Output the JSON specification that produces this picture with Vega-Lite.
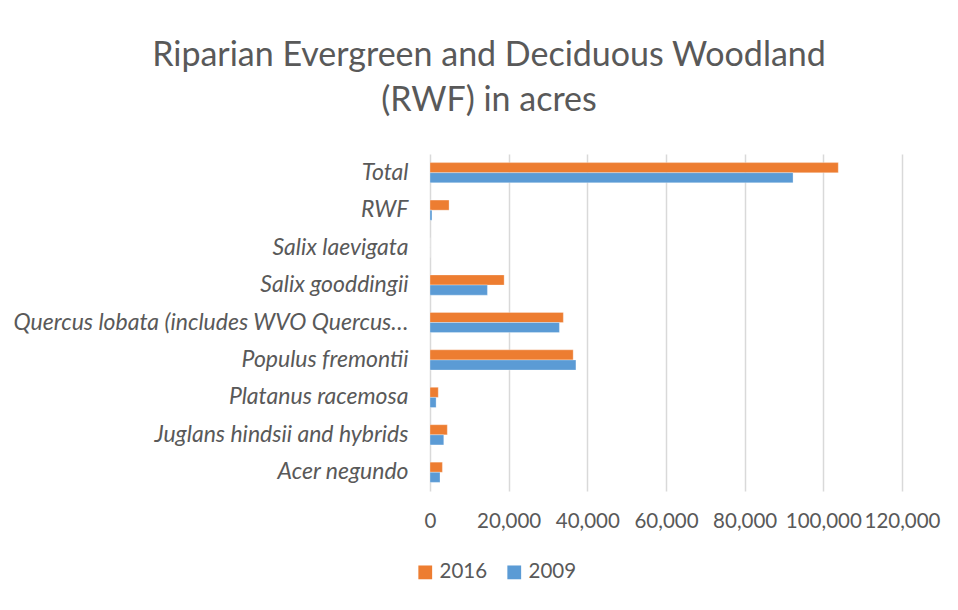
{
  "$schema": "https://vega.github.io/schema/vega-lite/v6.json",
  "width": 472,
  "height": 337,
  "autosize": {"type": "none"},
  "padding": {"left": 430, "top": 154, "right": 56, "bottom": 119},
  "background": "white",
  "title": {
    "text": ["Riparian Evergreen and Deciduous Woodland", "(RWF) in acres"],
    "font": "Lato",
    "fontSize": 34,
    "fontWeight": "normal",
    "color": "#595959",
    "lineHeight": 45,
    "anchor": "middle",
    "dx": -177,
    "offset": 36
  },
  "data": {
    "values": [
      {"species": "Total", "year": "2016", "acres": 103800},
      {"species": "Total", "year": "2009", "acres": 92300},
      {"species": "RWF", "year": "2016", "acres": 4850},
      {"species": "RWF", "year": "2009", "acres": 500},
      {"species": "Salix laevigata", "year": "2016", "acres": 0},
      {"species": "Salix laevigata", "year": "2009", "acres": 0},
      {"species": "Salix gooddingii", "year": "2016", "acres": 18850},
      {"species": "Salix gooddingii", "year": "2009", "acres": 14600},
      {"species": "Quercus lobata (includes WVO Quercus lobata)", "year": "2016", "acres": 33900},
      {"species": "Quercus lobata (includes WVO Quercus lobata)", "year": "2009", "acres": 32900},
      {"species": "Populus fremontii", "year": "2016", "acres": 36400},
      {"species": "Populus fremontii", "year": "2009", "acres": 37100},
      {"species": "Platanus racemosa", "year": "2016", "acres": 2100},
      {"species": "Platanus racemosa", "year": "2009", "acres": 1550},
      {"species": "Juglans hindsii and hybrids", "year": "2016", "acres": 4400},
      {"species": "Juglans hindsii and hybrids", "year": "2009", "acres": 3500},
      {"species": "Acer negundo", "year": "2016", "acres": 3150},
      {"species": "Acer negundo", "year": "2009", "acres": 2550}
    ]
  },
  "mark": {"type": "bar", "stroke": "white", "strokeWidth": 0.5, "strokeOpacity": 0.6},
  "encoding": {
    "y": {
      "field": "species",
      "type": "nominal",
      "sort": null,
      "scale": {"paddingInner": 0.46, "paddingOuter": 0.23},
      "axis": {
        "title": null,
        "ticks": false,
        "domain": false,
        "labelFont": "Lato",
        "labelFontSize": 23,
        "labelFontStyle": "italic",
        "labelColor": "#595959",
        "labelPadding": 22,
        "labelLimit": 400
      }
    },
    "yOffset": {
      "field": "year",
      "type": "nominal",
      "sort": ["2016", "2009"],
      "scale": {"paddingInner": 0, "paddingOuter": 0}
    },
    "x": {
      "field": "acres",
      "type": "quantitative",
      "scale": {"domain": [0, 120000], "nice": false},
      "axis": {
        "title": null,
        "values": [0, 20000, 40000, 60000, 80000, 100000, 120000],
        "format": ",d",
        "ticks": false,
        "domain": false,
        "grid": true,
        "gridColor": "#d9d9d9",
        "gridWidth": 1.5,
        "labelFont": "Lato",
        "labelFontSize": 20.5,
        "labelColor": "#595959",
        "labelPadding": 20,
        "labelFlush": false,
        "labelOverlap": false
      }
    },
    "color": {
      "field": "year",
      "type": "nominal",
      "sort": ["2016", "2009"],
      "scale": {"domain": ["2016", "2009"], "range": ["#ED7D31", "#5B9BD5"]},
      "legend": {
        "title": null,
        "orient": "none",
        "direction": "horizontal",
        "legendX": -15,
        "legendY": 408,
        "symbolType": "square",
        "symbolSize": 190,
        "symbolStrokeWidth": 0,
        "labelFont": "Lato",
        "labelFontSize": 20.5,
        "labelColor": "#595959",
        "labelOffset": 4,
        "columnPadding": 16
      }
    }
  },
  "config": {"view": {"stroke": null}}
}
